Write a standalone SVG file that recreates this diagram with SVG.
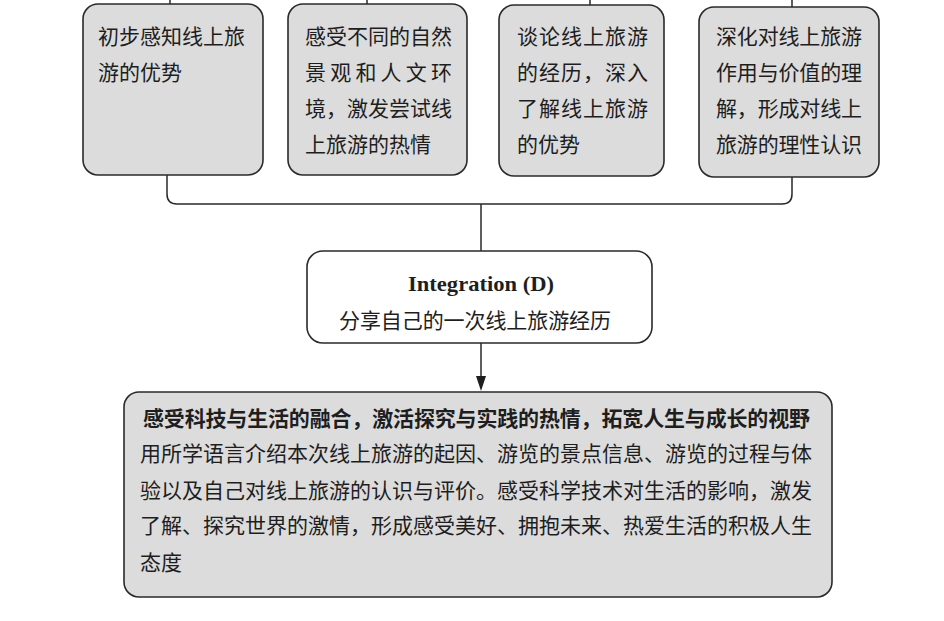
<svg xmlns="http://www.w3.org/2000/svg" width="944" height="621" viewBox="0 0 944 621">
<style>
.box{fill:#dcdcdc;stroke:#2a2a2a;stroke-width:1.6}
.wbox{fill:#ffffff;stroke:#2a2a2a;stroke-width:1.6}
.t{font-family:"Noto Sans CJK SC","Noto Sans",sans-serif;font-size:21px;fill:#1e1e1e}
.b{font-weight:bold}
.en{font-family:"Liberation Serif","DejaVu Serif",serif;font-size:22px;font-weight:bold;fill:#1e1e1e}
.ln{fill:none;stroke:#2a2a2a;stroke-width:1.5}
</style>
<rect width="944" height="621" fill="#ffffff"/>
<g id="connectors">
<line class="ln" x1="170" y1="0" x2="170" y2="4"/>
<line class="ln" x1="367" y1="0" x2="367" y2="4"/>
<line class="ln" x1="590" y1="0" x2="590" y2="5"/>
<line class="ln" x1="792" y1="0" x2="792" y2="7"/>
<path class="ln" d="M167,175 V194 Q167,204 177,204 H782 Q792,204 792,194 V177"/>
<line class="ln" x1="481" y1="204" x2="481" y2="251"/>
<line class="ln" x1="481" y1="343" x2="481" y2="378"/>
<path d="M476,376 L486,376 L481,391 Z" fill="#1e1e1e"/>
</g>
<g id="node1">
<rect class="box" x="83" y="4" width="180" height="171" rx="15"/>
<text class="t" x="98" y="44" textLength="147" lengthAdjust="spacing">初步感知线上旅</text>
<text class="t" x="98" y="80">游的优势</text>
</g>
<g id="node2">
<rect class="box" x="288" y="4" width="179" height="171" rx="15"/>
<text class="t" x="305" y="44" textLength="147" lengthAdjust="spacing">感受不同的自然</text>
<text class="t" x="305" y="80" textLength="147" lengthAdjust="spacing">景观和人文环</text>
<text class="t" x="305" y="116" textLength="147" lengthAdjust="spacing">境，激发尝试线</text>
<text class="t" x="305" y="152">上旅游的热情</text>
</g>
<g id="node3">
<rect class="box" x="499" y="5" width="165" height="171" rx="15"/>
<text class="t" x="517" y="44" textLength="131" lengthAdjust="spacing">谈论线上旅游</text>
<text class="t" x="517" y="80" textLength="131" lengthAdjust="spacing">的经历，深入</text>
<text class="t" x="517" y="116" textLength="131" lengthAdjust="spacing">了解线上旅游</text>
<text class="t" x="517" y="152">的优势</text>
</g>
<g id="node4">
<rect class="box" x="699" y="7" width="180" height="170" rx="15"/>
<text class="t" x="716" y="44" textLength="146" lengthAdjust="spacing">深化对线上旅游</text>
<text class="t" x="716" y="80" textLength="146" lengthAdjust="spacing">作用与价值的理</text>
<text class="t" x="716" y="116" textLength="146" lengthAdjust="spacing">解，形成对线上</text>
<text class="t" x="716" y="152" textLength="146" lengthAdjust="spacing">旅游的理性认识</text>
</g>
<g id="integration">
<rect class="wbox" x="307" y="251" width="345" height="92" rx="16"/>
<text class="en" x="408" y="291" textLength="146" lengthAdjust="spacingAndGlyphs">Integration (D)</text>
<text class="t" x="339" y="328" textLength="272" lengthAdjust="spacing">分享自己的一次线上旅游经历</text>
</g>
<g id="summary">
<rect class="box" x="124" y="392" width="708" height="205" rx="15"/>
<text class="t b" x="143" y="426" textLength="667" lengthAdjust="spacing">感受科技与生活的融合，激活探究与实践的热情，拓宽人生与成长的视野</text>
<text class="t" x="140" y="461" textLength="672" lengthAdjust="spacing">用所学语言介绍本次线上旅游的起因、游览的景点信息、游览的过程与体</text>
<text class="t" x="140" y="498" textLength="672" lengthAdjust="spacing">验以及自己对线上旅游的认识与评价。感受科学技术对生活的影响，激发</text>
<text class="t" x="140" y="533" textLength="672" lengthAdjust="spacing">了解、探究世界的激情，形成感受美好、拥抱未来、热爱生活的积极人生</text>
<text class="t" x="140" y="570">态度</text>
</g>
</svg>
